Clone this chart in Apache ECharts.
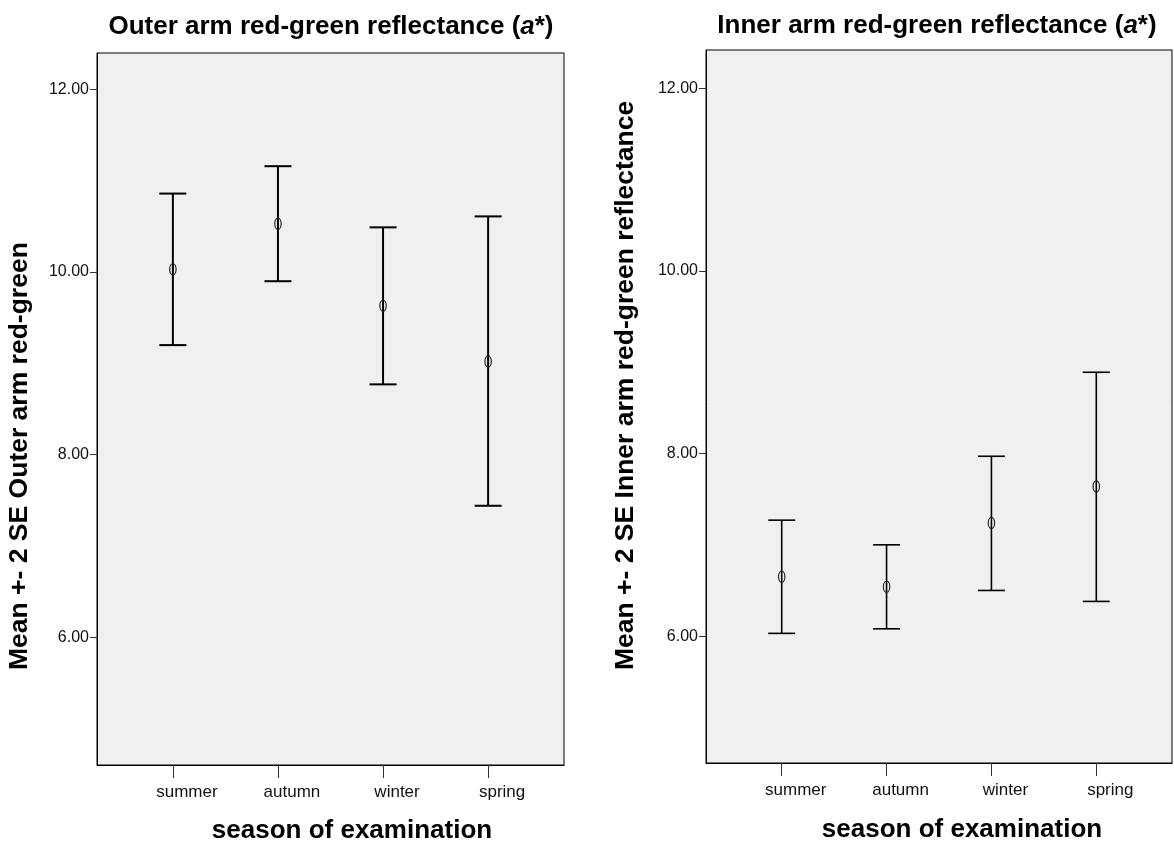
<!DOCTYPE html>
<html>
<head>
<meta charset="utf-8">
<script src="https://cdn.jsdelivr.net/npm/echarts@6/dist/echarts.min.js"></script>
<style>
  html, body { margin: 0; padding: 0; background: #fff; }
  #main { width: 1174px; height: 848px; }
</style>
</head>
<body>
<div id="main"></div>
<script>
// seasons on the x axis
var seasons = ['summer', 'autumn', 'winter', 'spring'];
var yTicks = [6, 8, 10, 12];

// outer arm a*: mean +- 2 SE
var outerLow  = [9.20, 9.90, 8.77, 7.44];
var outerMean = [10.03, 10.53, 9.63, 9.02];
var outerHigh = [10.86, 11.16, 10.49, 10.61];

// inner arm a*: mean +- 2 SE
var innerLow  = [6.03, 6.08, 6.50, 6.38];
var innerMean = [6.65, 6.54, 7.24, 7.64];
var innerHigh = [7.27, 7.00, 7.97, 8.89];

var FONT = 'Arial, "Liberation Sans", sans-serif';

function buildData(lo, mean, hi) {
    var out = [];
    for (var i = 0; i < seasons.length; i++) {
        out.push([i + 1, lo[i], mean[i], hi[i]]);
    }
    return out;
}

// error bar with caps and small hollow ellipse at the mean
function errorBar(lineW) {
    return function (params, api) {
        var x = api.value(0);
        var lo = api.coord([x, api.value(1)]);
        var mid = api.coord([x, api.value(2)]);
        var hi = api.coord([x, api.value(3)]);
        var cap = 13.5;
        var st = { stroke: '#000', lineWidth: lineW };
        return {
            type: 'group',
            children: [
                { type: 'line', shape: { x1: lo[0], y1: lo[1], x2: hi[0], y2: hi[1] }, style: st },
                { type: 'line', shape: { x1: hi[0] - cap, y1: hi[1], x2: hi[0] + cap, y2: hi[1] }, style: st },
                { type: 'line', shape: { x1: lo[0] - cap, y1: lo[1], x2: lo[0] + cap, y2: lo[1] }, style: st },
                { type: 'ellipse', shape: { cx: mid[0], cy: mid[1], rx: 3.2, ry: 5.6 },
                  style: { fill: 'none', stroke: '#222', lineWidth: 1.2 } }
            ]
        };
    };
}

function xAxisOf(gridIndex) {
    return {
        type: 'value', gridIndex: gridIndex, min: 0.278, max: 4.722,
        splitLine: { show: false },
        axisLine: { show: true, lineStyle: { color: '#000', width: 1 } },
        axisTick: { show: true, length: 13, customValues: [1, 2, 3, 4],
                    lineStyle: { color: '#333', width: 1 } },
        axisLabel: {
            customValues: [1, 2, 3, 4], margin: 19, fontSize: 17, color: '#111',
            fontFamily: FONT, padding: [0, 0, 0, 28],
            formatter: function (v) { return seasons[Math.round(v) - 1] || ''; }
        }
    };
}

function yAxisOf(gridIndex, min, max) {
    return {
        type: 'value', gridIndex: gridIndex, min: min, max: max,
        splitLine: { show: false },
        axisLine: { show: true, lineStyle: { color: '#000', width: 1 } },
        axisTick: { show: true, length: 7, customValues: yTicks,
                    lineStyle: { color: '#333', width: 1 } },
        axisLabel: {
            customValues: yTicks, margin: 8, fontSize: 16, color: '#111', fontFamily: FONT,
            formatter: function (v) { return v.toFixed(2); }
        }
    };
}

var myChart = echarts.init(document.getElementById('main'));

var boldText = { fontSize: 26, fontWeight: 'bold', fontFamily: FONT, fill: '#000' };
function titleRich() {
    return {
        n: { fontSize: 26, fontWeight: 'bold', fontFamily: FONT, fill: '#000' },
        i: { fontSize: 26, fontWeight: 'bold', fontStyle: 'italic', fontFamily: FONT, fill: '#000' }
    };
}

option = {
    backgroundColor: '#fff',
    animation: false,
    grid: [
        { left: 97, top: 53, width: 467, height: 712, show: true,
          backgroundColor: '#f0f0f0', borderColor: '#000', borderWidth: 1 },
        { left: 706, top: 50, width: 466, height: 713, show: true,
          backgroundColor: '#f0f0f0', borderColor: '#000', borderWidth: 1 }
    ],
    xAxis: [xAxisOf(0), xAxisOf(1)],
    yAxis: [yAxisOf(0, 4.6, 12.4), yAxisOf(1, 4.61, 12.42)],
    series: [
        { type: 'custom', xAxisIndex: 0, yAxisIndex: 0,
          renderItem: errorBar(2), data: buildData(outerLow, outerMean, outerHigh) },
        { type: 'custom', xAxisIndex: 1, yAxisIndex: 1,
          renderItem: errorBar(1.6), data: buildData(innerLow, innerMean, innerHigh) }
    ],
    graphic: [
        // panel titles
        { type: 'text', x: 331, y: 27, style: {
            text: '{n|Outer arm red-green reflectance (}{i|a}{n|*)}',
            align: 'center', verticalAlign: 'middle', rich: titleRich() } },
        { type: 'text', x: 937, y: 26, style: {
            text: '{n|Inner arm red-green reflectance (}{i|a}{n|*)}',
            align: 'center', verticalAlign: 'middle', rich: titleRich() } },
        // x axis titles
        { type: 'text', x: 352, y: 831, style: Object.assign({
            text: 'season of examination', align: 'center', verticalAlign: 'middle' }, boldText) },
        { type: 'text', x: 962, y: 830, style: Object.assign({
            text: 'season of examination', align: 'center', verticalAlign: 'middle' }, boldText) },
        // y axis titles, read bottom to top
        { type: 'text', x: 20, y: 670, rotation: Math.PI / 2, style: Object.assign({
            text: 'Mean +- 2 SE Outer arm red-green', align: 'left', verticalAlign: 'middle' },
            boldText, { fontSize: 26.5 }) },
        { type: 'text', x: 626, y: 670, rotation: Math.PI / 2, style: Object.assign({
            text: 'Mean +- 2 SE Inner arm red-green reflectance', align: 'left', verticalAlign: 'middle' },
            boldText, { fontSize: 26.5 }) }
    ]
};

myChart.setOption(option);
</script>
</body>
</html>
